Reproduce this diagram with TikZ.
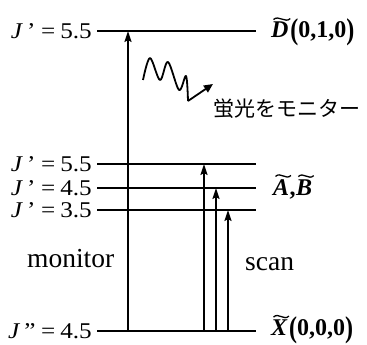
\documentclass[tikz,border=0pt]{standalone}
\usepackage{fontspec}
\setmainfont{Liberation Serif}
\newfontfamily\jpfont{Noto Sans CJK JP}
\usetikzlibrary{arrows.meta}
\newcommand\Jlab[2]{\scalebox{1.12}[1]{\textit{J}\hspace{0.16em}#1\hspace{0.22em}=\hspace{0.2em}#2}}
\newcommand\bigp[1]{\raisebox{-0.08em}{\scalebox{1}[1.25]{\bfseries #1}}}
\tikzset{
  level/.style={line width=2pt},
  tr/.style={line width=1.8pt,-{Stealth[length=11pt,width=7pt,inset=2pt]}},
  jlbl/.style={font=\fontsize{22.5}{24}\selectfont,anchor=east,inner sep=0pt},
  txt/.style={font=\fontsize{27.5}{30}\selectfont,inner sep=0pt},
  letter/.style={font=\fontsize{24}{26}\selectfont\bfseries\itshape,inner sep=0pt},
  rest/.style={font=\fontsize{24}{26}\selectfont\bfseries,inner sep=0pt,anchor=base west},
  tl/.style={line width=1.3pt},
}
\newcommand\tld[1]{\draw[tl] ([xshift=2.5pt,yshift=2.5pt]#1.north west) .. controls +(5pt,5pt) and +(-5pt,-5pt) .. ([xshift=1.5pt,yshift=3.5pt]#1.north east);}
\begin{document}
\begin{tikzpicture}[x=1pt,y=-1pt]
\useasboundingbox (0,0) rectangle (367,345);
% level end points
\coordinate (D1) at (97,31);  \coordinate (D2) at (256,31);
\coordinate (A1) at (97,164); \coordinate (A2) at (256,164);
\coordinate (B1) at (97,188); \coordinate (B2) at (256,188);
\coordinate (C1) at (97,210); \coordinate (C2) at (256,210);
\coordinate (X1) at (97,331); \coordinate (X2) at (256,331);
\draw[level] (D1) -- (D2);
\draw[level] (A1) -- (A2);
\draw[level] (B1) -- (B2);
\draw[level] (C1) -- (C2);
\draw[level] (X1) -- (X2);
% transitions
\coordinate (m0) at (128,331); \coordinate (m1) at (128,31);
\coordinate (s10) at (204,331); \coordinate (s11) at (204,164);
\coordinate (s20) at (216,331); \coordinate (s21) at (216,188);
\coordinate (s30) at (228,331); \coordinate (s31) at (228,210);
\draw[tr] (m0) -- (m1);
\draw[tr] (s10) -- (s11);
\draw[tr] (s20) -- (s21);
\draw[tr] (s30) -- (s31);
% level labels
\node[jlbl] (lD) at (92,31) {\Jlab{’}{5.5}};
\node[jlbl] (lA) at (92,164) {\Jlab{’}{5.5}};
\node[jlbl] (lB) at (92,188) {\Jlab{’}{4.5}};
\node[jlbl] (lC) at (92,210) {\Jlab{’}{3.5}};
\node[jlbl] (lX) at (92,331) {\Jlab{”}{4.5}};
% state labels
\node[letter,anchor=base west] (Dl) at (271,38) {D};
\node[rest] (Dr) at (Dl.base east) {\hspace{1.5pt}\bigp{(}0,1,0\bigp{)}};
\tld{Dl}
\node[letter,anchor=base west] (Al) at (273,195) {A};
\node[rest] (Ac) at (Al.base east) {,\hspace{2pt}};
\node[letter,anchor=base west] (Bl) at (Ac.base east) {B};
\tld{Al}
\tld{Bl}
\node[letter,anchor=base west] (Xl) at (271,335.5) {X};
\node[rest] (Xr) at (Xl.base east) {\hspace{1.5pt}\bigp{(}0,0,0\bigp{)}};
\tld{Xl}
% texts
\node[txt,anchor=base west] (mon) at (27,267) {monitor};
\node[txt,anchor=base west] (scan) at (245,270) {scan};
\node[font=\jpfont\fontsize{21}{24}\selectfont,anchor=west,inner sep=0pt] (fl) at (213,109) {蛍光をモニター};
% fluorescence squiggle
\coordinate (w0) at (143,80);
\coordinate (w1) at (188,101);
\coordinate (w2) at (213,84);
\draw[line width=1.8pt,line join=round] plot[smooth,tension=0.55] coordinates {(w0) (150,58) (160,80) (168,62) (179,90) (186,76) (w1)};
\draw[line width=1.8pt,-{Triangle[length=9pt,width=8pt]}] (w1) -- (w2);
\end{tikzpicture}
\end{document}
